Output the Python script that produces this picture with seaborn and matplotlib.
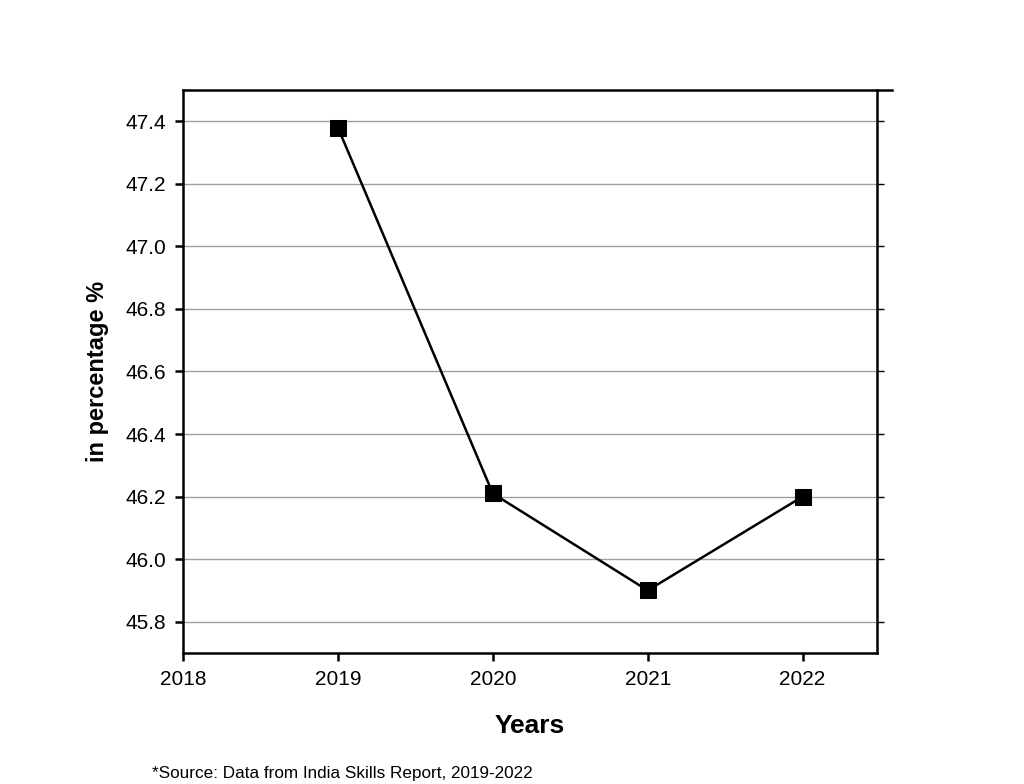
import matplotlib
matplotlib.use("Agg")
import matplotlib.pyplot as plt
import pandas as pd
import seaborn as sns

# Data
years = [2019, 2020, 2021, 2022]
percent = [47.38, 46.21, 45.90, 46.20]
x_ticks = [2018, 2019, 2020, 2021, 2022]
y_ticks = [45.8, 46.0, 46.2, 46.4, 46.6, 46.8, 47.0, 47.2, 47.4]

df = pd.DataFrame({"Year": years, "Percent": percent})

sns.set_style("white")
plt.rcParams["font.family"] = ["Liberation Sans", "DejaVu Sans"]
plt.rcParams["text.color"] = "black"
plt.rcParams["axes.labelcolor"] = "black"
plt.rcParams["xtick.color"] = "black"
plt.rcParams["ytick.color"] = "black"

fig = plt.figure(figsize=(10.24, 7.84), dpi=100)
ax = fig.add_axes([0.1787, 0.1671, 0.6777, 0.7181])

sns.lineplot(data=df, x="Year", y="Percent", ax=ax, color="black",
             linewidth=1.8, marker="s", markersize=11.5, markeredgecolor="black",
             markerfacecolor="black", zorder=3)

ax.set_xlim(2018, 2022.48)
ax.set_ylim(45.70, 47.50)
ax.set_xticks(x_ticks)
ax.set_xticklabels([str(y) for y in x_ticks])
ax.set_yticks(y_ticks)
ax.set_yticklabels([f"{v:.1f}" for v in y_ticks])
ax.yaxis.grid(True, color="#a0a0a0", linewidth=1.0)
ax.xaxis.grid(False)

for side in ["left", "right", "top", "bottom"]:
    ax.spines[side].set_visible(True)
    ax.spines[side].set_color("black")
    ax.spines[side].set_linewidth(1.8)
ax.spines["top"].set_bounds(2018, 2022.58)

ax.tick_params(axis="both", direction="out", length=6, width=1.8,
               labelsize=15, left=True, bottom=True, pad=6)
# short gray stubs of the gridlines past the right spine
ax.tick_params(axis="y", right=True, labelright=False)
for t in ax.yaxis.get_major_ticks():
    t.tick2line.set_color("#a0a0a0")
    t.tick2line.set_markeredgewidth(1.0)
    t.tick2line.set_markersize(5)

ax.set_xlabel("Years", fontsize=19, fontweight="bold", labelpad=18)
ax.set_ylabel("in percentage %", fontsize=17, fontweight="bold", labelpad=12)

fig.text(0.148, 0.004, "*Source: Data from India Skills Report, 2019-2022",
         fontsize=12.3, ha="left", va="bottom")

fig.savefig("out.png", dpi=100)
